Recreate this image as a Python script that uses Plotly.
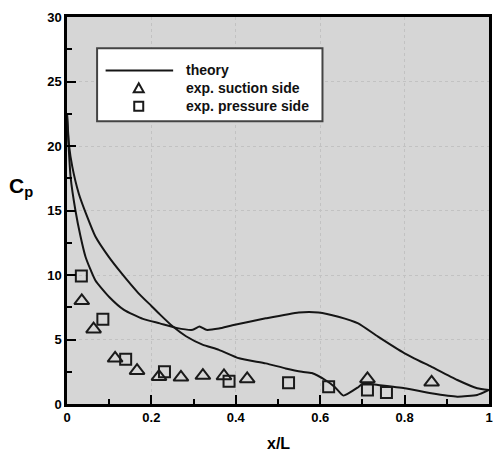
import plotly.graph_objects as go

# theory curve, upper branch (x, Cp)
theory_a_x = [0.0, 0.003, 0.0085, 0.02, 0.032, 0.044, 0.067, 0.1, 0.135, 0.18, 0.22, 0.259, 0.298,
              0.314, 0.33, 0.36, 0.392, 0.471, 0.549, 0.596, 0.643, 0.69, 0.737, 0.8, 0.863, 0.925, 0.972, 1.0]
theory_a_y = [22.5, 20.5, 17.6, 15.0, 13.0, 11.4, 9.6, 8.3, 7.3, 6.6, 6.25, 5.9, 5.75,
              6.0, 5.75, 5.85, 6.1, 6.64, 7.1, 7.1, 6.77, 6.25, 5.22, 3.93, 2.89, 1.86, 1.22, 1.09]
# theory curve, lower branch
theory_b_x = [0.0, 0.005, 0.0125, 0.028, 0.048, 0.067, 0.099, 0.13, 0.169, 0.2, 0.22, 0.251, 0.282, 0.321,
              0.36, 0.408, 0.471, 0.518, 0.557, 0.58, 0.612, 0.635, 0.655, 0.69, 0.702, 0.737, 0.8, 0.863,
              0.925, 0.972, 1.0]
theory_b_y = [22.5, 20.0, 18.4, 16.3, 14.5, 13.0, 11.4, 10.1, 8.6, 7.6, 6.95, 6.0, 5.25, 4.6,
              4.2, 3.54, 3.15, 2.76, 2.5, 2.4, 1.86, 1.3, 0.65, 1.3, 1.6, 1.47, 1.22, 0.83,
              0.57, 0.7, 1.09]

suction_x = [0.035, 0.063, 0.114, 0.166, 0.218, 0.27, 0.322, 0.372, 0.427, 0.712, 0.864]
suction_y = [8.0, 5.8, 3.54, 2.58, 2.12, 2.07, 2.2, 2.17, 1.94, 1.94, 1.68]

pressure_x = [0.034, 0.085, 0.139, 0.231, 0.384, 0.525, 0.62, 0.712, 0.757]
pressure_y = [9.92, 6.57, 3.47, 2.5, 1.77, 1.65, 1.34, 1.09, 0.9]

legend_labels = ["theory", "exp. suction side", "exp. pressure side"]
x_tickvals = [0, 0.2, 0.4, 0.6, 0.8, 1]
x_ticktext = ["0", "0.2", "0.4", "0.6", "0.8", "1"]
y_tickvals = [0, 5, 10, 15, 20, 25, 30]

FONT = "Liberation Sans, Arial, sans-serif"

fig = go.Figure()
for tx, ty in [(theory_a_x, theory_a_y), (theory_b_x, theory_b_y)]:
    fig.add_trace(go.Scatter(x=tx, y=ty, mode="lines",
                             line=dict(color="#151515", width=2, shape="spline", smoothing=0.5),
                             showlegend=False))
fig.add_trace(go.Scatter(x=suction_x, y=suction_y, mode="markers",
                         marker=dict(symbol="triangle-up-open", size=13, color="#1a1a1a",
                                     line=dict(width=2, color="#1a1a1a")), showlegend=False))
fig.add_trace(go.Scatter(x=pressure_x, y=pressure_y, mode="markers",
                         marker=dict(symbol="square-open", size=11, color="#1a1a1a",
                                     line=dict(width=2, color="#1a1a1a")), showlegend=False))

axis_common = dict(
    showline=True, linecolor="black", linewidth=2.5, mirror=True,
    ticks="inside", tickcolor="black", tickwidth=2, ticklen=9,
    showgrid=True, gridcolor="#c2c2c2", griddash="dot", gridwidth=1,
    zeroline=False,
    tickfont=dict(family=FONT, size=13, color="black", weight="bold"),
)

fig.update_xaxes(range=[0, 1], tickvals=x_tickvals, ticktext=x_ticktext,
                 minor=dict(dtick=0.1, ticks="inside", ticklen=5, tickwidth=2, tickcolor="black", showgrid=False),
                 **axis_common)
fig.update_yaxes(range=[0, 30], tickvals=y_tickvals,
                 minor=dict(dtick=2.5, ticks="inside", ticklen=5, tickwidth=2, tickcolor="black", showgrid=False),
                 **axis_common)

# custom legend box
shapes = [
    dict(type="rect", xref="paper", yref="paper", x0=0.0713, x1=0.6054, y0=0.7307, y1=0.9192,
         fillcolor="white", line=dict(color="#444444", width=2), layer="above"),
    dict(type="line", xref="paper", yref="paper", x0=0.0915, x1=0.2515, y0=0.8615, y1=0.8615,
         line=dict(color="#151515", width=2), layer="above"),
    dict(type="path", xref="paper", yref="paper", xsizemode="pixel", ysizemode="pixel",
         xanchor=0.170, yanchor=0.8159, path="M-5,-4 L5,-4 L0,5 Z",
         line=dict(color="#1a1a1a", width=2), fillcolor="rgba(0,0,0,0)", layer="above"),
    dict(type="rect", xref="paper", yref="paper", xsizemode="pixel", ysizemode="pixel",
         xanchor=0.170, yanchor=0.7694, x0=-4.5, x1=4.5, y0=-4.5, y1=4.5,
         line=dict(color="#1a1a1a", width=2), fillcolor="rgba(0,0,0,0)", layer="above"),
]
annotations = []
for lbl, yy in zip(legend_labels, [0.8624, 0.8159, 0.7694]):
    annotations.append(dict(text=lbl, xref="paper", yref="paper", x=0.2784, y=yy,
                            xanchor="left", yanchor="middle", showarrow=False,
                            font=dict(family=FONT, size=14, color="#111111", weight="bold")))
annotations.append(dict(text="C<sub>p</sub>", xref="paper", yref="paper", x=-0.143, y=0.56,
                        xanchor="left", yanchor="middle", showarrow=False,
                        font=dict(family=FONT, size=21, color="black", weight="bold")))
annotations.append(dict(text="x/L", xref="paper", yref="paper", x=0.5, y=-0.101,
                        xanchor="center", yanchor="middle", showarrow=False,
                        font=dict(family=FONT, size=16, color="black", weight="bold")))

fig.update_layout(
    width=493, height=453,
    margin=dict(l=67, r=1, t=17, b=49),
    paper_bgcolor="white", plot_bgcolor="#d6d6d6",
    shapes=shapes, annotations=annotations, showlegend=False,
)

fig.write_html("out.html", config={"displayModeBar": False},
               post_script="document.body.style.margin='0px';")
